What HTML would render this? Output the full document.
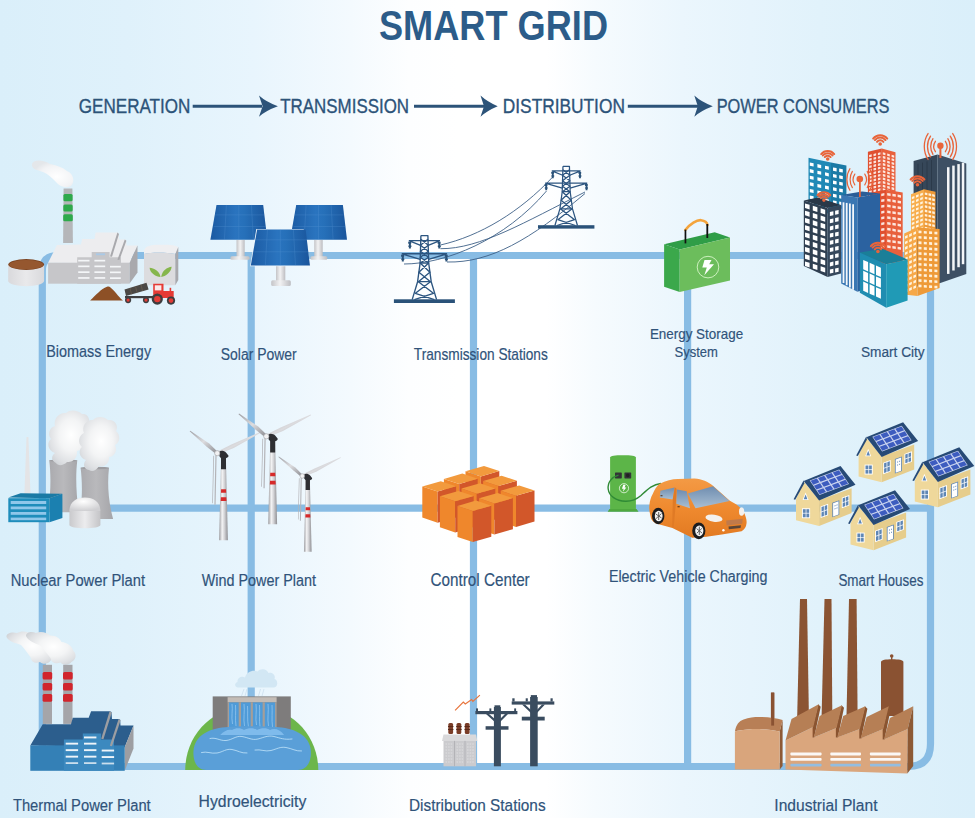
<!DOCTYPE html>
<html><head><meta charset="utf-8">
<style>
html,body{margin:0;padding:0;width:975px;height:818px;overflow:hidden;}
body{background:linear-gradient(90deg,#daeffa 0%,#dff1fb 13%,#e8f5fd 26%,#f4fafe 36%,#fdfeff 42%,#ffffff 47%,#ffffff 56%,#f6fbfe 61%,#ebf6fd 70%,#e1f2fb 84%,#daeffa 100%);}
svg{position:absolute;left:0;top:0;}
text{font-family:"Liberation Sans",sans-serif;}
</style></head>
<body>
<svg width="975" height="818" viewBox="0 0 975 818">
<!-- GRID LINES -->
<g id="grid" fill="none" stroke="#88bce4" stroke-width="7.2">
  <path d="M42.3,766.5 V271 Q42.3,255.5 58,255.5 H930.5"/>
  <path d="M42.3,508.2 H930.5"/>
  <path d="M42.3,766.5 H908 Q930.5,766.5 930.5,744 V255"/>
  <path d="M251.2,255.5 V766.5"/>
  <path d="M473.5,255.5 V766.5"/>
  <path d="M687.6,255.5 V766.5"/>
</g>

<!-- TITLE -->
<g fill="#2c5c89">
<text x="379" y="39.5" font-size="42.5" font-weight="bold" textLength="229" lengthAdjust="spacingAndGlyphs">SMART GRID</text>
</g>
<!-- HEADER FLOW -->
<g fill="#2c5379" stroke="#2c5379" stroke-width="0.35" font-size="20.3">
<text x="78.8" y="113.2" textLength="111.5" lengthAdjust="spacingAndGlyphs">GENERATION</text>
<text x="280.3" y="113.2" textLength="128.7" lengthAdjust="spacingAndGlyphs">TRANSMISSION</text>
<text x="502.8" y="113.2" textLength="122.1" lengthAdjust="spacingAndGlyphs">DISTRIBUTION</text>
<text x="716.7" y="113.2" textLength="172.8" lengthAdjust="spacingAndGlyphs">POWER CONSUMERS</text>
</g>
<g fill="#2c5379" stroke="#2c5379">
  <line x1="192.7" y1="106.3" x2="262" y2="106.3" stroke-width="3"/>
  <path d="M259,95.6 Q266,102 277.9,106.3 Q266,110.6 259,116.7 L262.6,106.3 Z" stroke="none"/>
  <line x1="414" y1="106.3" x2="484" y2="106.3" stroke-width="3"/>
  <path d="M480.5,95.6 Q487.5,102 497.7,106.3 Q487.5,110.6 480.5,116.7 L484,106.3 Z" stroke="none"/>
  <line x1="627.8" y1="106.3" x2="698" y2="106.3" stroke-width="3"/>
  <path d="M694.3,95.6 Q701.3,102 712.8,106.3 Q701.3,110.6 694.3,116.7 L697.8,106.3 Z" stroke="none"/>
</g>

<!-- ICONS -->
<g id="icons">
<defs>
  <radialGradient id="smoke" cx="0.6" cy="0.6" r="0.6">
    <stop offset="0" stop-color="#ffffff"/><stop offset="0.7" stop-color="#f2f3f5"/><stop offset="1" stop-color="#e4e7ea"/>
  </radialGradient>
  <linearGradient id="tankbody" x1="0" x2="1" y1="0" y2="0">
    <stop offset="0" stop-color="#d9d9dc"/><stop offset="0.5" stop-color="#e9e9eb"/><stop offset="1" stop-color="#d9d9dc"/>
  </linearGradient>
</defs>
<!-- BIOMASS -->
<g id="biomass">
  <!-- smoke -->
  <path d="M32,164 C34,159 44,160 50,164 C56,165 62,167 67,171 C74,174 75,182 71,186 C66,189 59,186 56,182 C52,178 48,174 43,172 C37,170 31,169 32,164 Z" fill="url(#smoke)"/>
  <!-- chimney -->
  <path d="M63.6,188.6 H72.4 L72.9,243 H63.1 Z" fill="#b5b6b9"/>
  <rect x="63.4" y="194" width="9.2" height="7.3" rx="1.5" fill="#2eaa4c"/>
  <rect x="63.3" y="204.4" width="9.4" height="7" rx="1.5" fill="#2eaa4c"/>
  <rect x="63.2" y="214.3" width="9.6" height="7" rx="1.5" fill="#2eaa4c"/>
  <!-- tank -->
  <path d="M8.2,264.5 V281 C8.2,284 17,286.2 26.2,286.2 C35.4,286.2 44.1,284 44.1,281 V264.5 Z" fill="url(#tankbody)"/>
  <ellipse cx="26.2" cy="264.5" rx="17.9" ry="5.4" fill="#7c4422"/>
  <ellipse cx="26.2" cy="264.7" rx="17" ry="4.6" fill="#95572f"/>
  <!-- factory -->
  <path d="M48.1,262.7 L57,245 L81,244.6 L82.2,239 L94.5,239 L95.6,232.5 L117.6,232.5 L118.8,233.2 L119.2,239.5 L125,239.5 L126.2,240.3 L126.5,245.5 L137.5,245.5 L129.4,263.2 Z" fill="#ededef"/>
  <path d="M129.4,263.2 L137.5,245.5 L137.5,272.4 L129.4,283.7 Z" fill="#a9a9ad"/>
  <rect x="48.1" y="262.7" width="81.3" height="21" fill="#c6c6c9"/>
  <path d="M77.2,283.7 V257.3 H91.7 V251.9 H109.6 V257.3 H121 V283.7 Z" fill="#c6c6c9"/>
  <rect x="96" y="253.4" width="9" height="1.8" fill="#a9c9e6"/>
  <path d="M117.4,232.6 L110,256.5 L112,256.8 L119,234 Z" fill="#a9a9ad"/>
  <path d="M124.8,239.5 L117.4,259.8 L119.4,260 L126.4,240.8 Z" fill="#a9a9ad"/>
  <g fill="#f4f6f8">
    <rect x="78.2" y="259.8" width="11.3" height="1.7"/><rect x="94.4" y="259.8" width="10.8" height="1.7"/>
    <rect x="78.2" y="265.5" width="11.3" height="1.7"/><rect x="94.4" y="265.5" width="10.8" height="1.7"/><rect x="110" y="265.8" width="10.8" height="1.7"/>
    <rect x="78.2" y="271.3" width="11.3" height="1.7"/><rect x="94.4" y="271.3" width="10.8" height="1.7"/><rect x="110" y="271.5" width="10.8" height="1.7"/>
    <rect x="78.2" y="277.1" width="11.3" height="1.7"/><rect x="94.4" y="277.1" width="10.8" height="1.7"/><rect x="110" y="277.3" width="10.8" height="1.7"/>
  </g>
  <!-- silo -->
  <path d="M144,252 C144,246 150,244.7 160,244.7 C170,244.7 178.3,245 178.3,248 L175.3,254 C165,252 152,252 144,254 Z" fill="#efeff1"/>
  <path d="M144,254 C152,252 165,252 175.3,254 V285.3 H144 Z" fill="#dcdcdf"/>
  <path d="M175.3,254 L178.3,247 V280 L175.3,285.3 Z" fill="#a9a9ad"/>
  <path d="M160.5,277 C156,277 150,273 149.6,267.8 C154,268 159.5,271 160.5,277 Z" fill="#86b64c"/>
  <path d="M161.2,277 C165.5,276.5 171,272.5 171.7,266.8 C167,267.5 162,270.5 161.2,277 Z" fill="#86b64c"/>
  <!-- dirt pile -->
  <path d="M90.1,300.6 C96,295 101,289 107,286.8 C108.5,286.4 109.5,286.6 110.5,287.4 C114,290 118,296 123,300.6 Z" fill="#8d5026"/>
  <!-- tractor -->
  <path d="M124.5,289.4 L146.5,282.7 L148.6,289.4 L126,296 Z" fill="#4b4845"/>
  <g stroke="#6b5e50" stroke-width="0.7"><line x1="130" y1="288" x2="131.5" y2="294.3"/><line x1="135.5" y1="286.3" x2="137" y2="292.7"/><line x1="141" y1="284.6" x2="142.5" y2="291"/></g>
  <rect x="125" y="296" width="28" height="2.2" fill="#3f3f41"/>
  <circle cx="128.1" cy="300.1" r="3.1" fill="#3f3f41"/><circle cx="128.1" cy="300.1" r="1.6" fill="#e23c36"/>
  <circle cx="146" cy="300.1" r="3.1" fill="#3f3f41"/><circle cx="146" cy="300.1" r="1.6" fill="#e23c36"/>
  <path d="M153.2,298 V283.7 H163.5 V290.9 H173.7 V298 Z" fill="#e53a35"/>
  <rect x="154.8" y="285.3" width="6.6" height="5.1" fill="#fbe9e9"/>
  <rect x="169.6" y="287.8" width="1.6" height="3.2" fill="#e53a35"/>
  <circle cx="157.3" cy="299.1" r="5.6" fill="#3d3d3f"/><circle cx="157.3" cy="299.1" r="3.2" fill="#e23c36"/>
  <circle cx="171" cy="300.6" r="4.1" fill="#3d3d3f"/><circle cx="171" cy="300.6" r="2.3" fill="#e23c36"/>
</g>
<!-- SOLAR -->
<defs>
  <linearGradient id="panel" x1="0" x2="1" y1="0" y2="0">
    <stop offset="0" stop-color="#1b5aa2"/><stop offset="0.45" stop-color="#2a74bf"/><stop offset="0.6" stop-color="#2670b9"/><stop offset="1" stop-color="#1a559c"/>
  </linearGradient>
  <linearGradient id="pole" x1="0" x2="1" y1="0" y2="0">
    <stop offset="0" stop-color="#c4c4c7"/><stop offset="0.45" stop-color="#f2f2f3"/><stop offset="1" stop-color="#bdbdc1"/>
  </linearGradient>
  <g id="solarpanel">
    <path d="M6.1,0 H52.8 L56.9,34.9 H0 Z" fill="url(#panel)"/>
    <g stroke="#6aa5e0" stroke-width="0.5" opacity="0.4">
      <line x1="4.8" y1="10" x2="54.1" y2="10"/><line x1="3.4" y1="21.6" x2="55.5" y2="21.6"/>
      <line x1="16" y1="0" x2="14" y2="34.9"/><line x1="28.4" y1="0" x2="28.4" y2="34.9"/><line x1="41" y1="0" x2="43" y2="34.9"/>
    </g>
  </g>
</defs>
<g id="solar">
  <rect x="236.5" y="240" width="8.2" height="17" fill="url(#pole)"/>
  <rect x="230.4" y="256.2" width="19.2" height="3.6" rx="1.5" fill="url(#pole)"/>
  <rect x="314.2" y="240" width="8.5" height="17" fill="url(#pole)"/>
  <rect x="310.4" y="256.2" width="16.9" height="3.6" rx="1.5" fill="url(#pole)"/>
  <use href="#solarpanel" x="210.4" y="204.9"/>
  <use href="#solarpanel" x="290.1" y="204.9"/>
  <rect x="276" y="265" width="9.3" height="16" fill="url(#pole)"/>
  <rect x="271.2" y="280.3" width="19.6" height="5.8" rx="1.5" fill="url(#pole)"/>
  <path d="M256.3,229 H303.7 L310.6,266.2 H250.1 Z" fill="#eef5fb"/>
  <g transform="translate(250.8,229.5) scale(1.039,1.032)"><use href="#solarpanel"/></g>
</g>
<!-- TRANSMISSION -->
<defs>
  <g id="tower">
    <rect x="-30.5" y="0" width="61" height="3.7" fill="#2a5279"/>
    <g fill="none" stroke="#2c5580" stroke-width="1.35" stroke-linejoin="round">
      <path d="M-3.5,-63.7 H3.5 L4.3,-36.2 L6.8,-17.6 L12.2,0.3 M-3.5,-63.7 L-4.3,-36.2 L-6.8,-17.6 L-12.2,0.3"/>
      <path d="M-3.6,-60 L4,-54 L-4,-48 L4.1,-42 L-4.2,-36.2 L5.5,-27 L-6,-17.6 L9,-6 L-10,0.3 M3.6,-60 L-4,-54 L4,-48 L-4.1,-42 L4.2,-36.2 L-5.5,-27 L6,-17.6 L-9,-6 L10,0.3"/>
      <path d="M-4.3,-36.2 H4.3 M-6.8,-17.6 H6.8"/>
      <path d="M-15.6,-58.7 H15.6 M-15.6,-58.7 L-3.8,-54 M15.6,-58.7 L3.8,-54"/>
      <path d="M-22.7,-45.5 H22.7 M-22.7,-45.5 L-4.2,-40 M22.7,-45.5 L4.2,-40"/>
    </g>
    <g fill="#2a5279">
      <path d="M-16.2,-57.5 h3 v2 h-0.3 v1.6 h0.5 v1.6 h-0.5 v1.6 h-2 v-1.6 h-0.5 v-1.6 h0.5 v-1.6 h-0.7 z"/>
      <path d="M13.2,-57.5 h3 v2 h-0.3 v1.6 h0.5 v1.6 h-0.5 v1.6 h-2 v-1.6 h-0.5 v-1.6 h0.5 v-1.6 h-0.7 z"/>
      <path d="M-23.3,-44.5 h3 v2 h-0.3 v1.6 h0.5 v1.6 h-0.5 v1.6 h-2 v-1.6 h-0.5 v-1.6 h0.5 v-1.6 h-0.7 z"/>
      <path d="M20.3,-44.5 h3 v2 h-0.3 v1.6 h0.5 v1.6 h-0.5 v1.6 h-2 v-1.6 h-0.5 v-1.6 h0.5 v-1.6 h-0.7 z"/>
    </g>
  </g>
</defs>
<g id="transmission">
  <g fill="none" stroke="#3d6087" stroke-width="0.9">
    <path d="M440.5,245 C480,236 520,212 552.7,177"/>
    <path d="M440.5,248.7 C480,249 525,222 585,192"/>
    <path d="M404,264 C445,264 505,240 546.5,191"/>
    <path d="M447,262 C490,263 530,240 585,193.5"/>
  </g>
  <use href="#tower" transform="translate(424.4,299.3)"/>
  <use href="#tower" transform="translate(566.2,225.2) scale(0.925)"/>
</g>
<!-- ENERGY STORAGE -->
<g id="battery">
  <path d="M685.3,230 C690,224 697,219.8 701,220.2 C704.5,220.6 707,222.5 707.5,225" fill="none" stroke="#f4a43c" stroke-width="2.6" stroke-linecap="round"/>
  <path d="M664.1,244.2 L714.7,232.3 L730,237.5 L679.7,249.4 Z" fill="#2f9d47"/>
  <rect x="684.6" y="229.6" width="1.7" height="13.8" fill="#111"/>
  <rect x="706.4" y="224" width="1.8" height="14" fill="#111"/>
  <path d="M664.1,244.2 L679.7,249.4 L679.7,292 L664.1,286.8 Z" fill="#3ba84b"/>
  <path d="M679.7,249.4 L730,237.5 L730,280.6 L679.7,292 Z" fill="#6cbd5c"/>
  <circle cx="708" cy="267.1" r="10.8" fill="none" stroke="#d7f5c8" stroke-width="0.9"/>
  <path d="M704.5,260 H711.5 L709.2,264.3 H714 L704.3,275.2 L706.8,267.6 H702.3 Z" fill="#ffffff"/>
</g>
<!-- NUCLEAR -->
<defs>
  <linearGradient id="ctower" x1="0" x2="1" y1="0" y2="0">
    <stop offset="0" stop-color="#a9a9ad"/><stop offset="0.5" stop-color="#b9b9bc"/><stop offset="1" stop-color="#a5a5a9"/>
  </linearGradient>
  <radialGradient id="cloud" cx="0.55" cy="0.45" r="0.65">
    <stop offset="0" stop-color="#ffffff"/><stop offset="0.45" stop-color="#f3f4f5"/><stop offset="0.8" stop-color="#dfe1e4"/><stop offset="1" stop-color="#cfd2d6"/>
  </radialGradient>
  <radialGradient id="domeg" cx="0.45" cy="0.3" r="0.7">
    <stop offset="0" stop-color="#ffffff"/><stop offset="1" stop-color="#cfcfd2"/>
  </radialGradient>
  <linearGradient id="domec" x1="0" x2="1" y1="0" y2="0">
    <stop offset="0" stop-color="#c9c9cc"/><stop offset="0.5" stop-color="#ececee"/><stop offset="1" stop-color="#c4c4c7"/>
  </linearGradient>
</defs>
<g id="nuclear">
  <path d="M49.2,460.3 H77.3 C75.5,475 76,495 78.9,512.3 H47.9 C50.8,495 51.2,475 49.2,460.3 Z" fill="url(#ctower)"/>
  <ellipse cx="63.25" cy="460.6" rx="14" ry="1.3" fill="#9d9da1"/>
  <path d="M80.6,467.7 H109 C107.3,483 108,500 113.1,518.9 H79.3 C82.5,500 82.5,483 80.6,467.7 Z" fill="url(#ctower)"/>
  <ellipse cx="94.8" cy="468" rx="14.2" ry="1.3" fill="#9d9da1"/>
  <path d="M56,463 C50,460 52,455 55,453 C47,450 47,442 51,439 C47,434 50,427 55,426 C53,418 60,412 66,413 C70,409 78,410 82,414 C88,413 91,420 88,425 C92,430 89,437 84,438 C86,444 82,450 77,451 C78,457 73,463 67,462 C63,466 58,466 56,463 Z" fill="url(#cloud)"/>
  <path d="M89,470 C83,469 83,463 86,460 C79,458 78,450 82,447 C77,443 79,435 84,433 C81,426 87,419 93,420 C96,416 104,416 108,420 C115,419 119,426 116,431 C121,435 120,443 115,445 C118,451 114,457 109,457 C110,463 104,468 99,466 C96,471 92,472 89,470 Z" fill="url(#cloud)"/>
  <path d="M26.5,437 H28.4 L30.5,494 H24.4 Z" fill="#e4e4e6"/>
  <path d="M8.3,497.4 L20.6,493.3 L62.4,493.8 L49.5,498.2 Z" fill="#1a7aa5"/>
  <path d="M49.5,498.2 L62.4,493.8 L62.4,518 L49.5,522.2 Z" fill="#1b80b0"/>
  <rect x="8.3" y="498.2" width="41.2" height="24" fill="#1f8dbb"/>
  <g fill="#8fc7ea"><rect x="10.7" y="501" width="35.5" height="3"/><rect x="10.7" y="506.5" width="35.5" height="2.8"/><rect x="10.7" y="512" width="35.5" height="2.8"/><rect x="10.7" y="517.6" width="35.5" height="2.6"/></g>
  <path d="M69.4,511 V525 C69.4,527 77,528.3 84.9,528.3 C92.8,528.3 100.4,527 100.4,525 V511 Z" fill="url(#domec)"/>
  <path d="M69.4,511 C69.4,502 76,497.4 84.9,497.4 C93.8,497.4 100.4,502 100.4,511 Z" fill="url(#domeg)"/>
</g>
</g>

<g id="city">
<path d="M913.6,161 L937.5,154.5 L937.5,284 L913.6,287 Z" fill="#364759"/>
<path d="M937.5,154.5 L966.3,163.5 L966.3,274 L937.5,284 Z" fill="#3e5064"/>
<g stroke="#2b3a4a" stroke-width="1"><line x1="918" y1="163.8" x2="918" y2="284"/><line x1="922.5" y1="162.6" x2="922.5" y2="284"/><line x1="927" y1="161.4" x2="927" y2="284"/><line x1="931.5" y1="160.1" x2="931.5" y2="284"/></g>
<g fill="#f4f6f8"><path d="M947,167.2 h2.5 v106.7 h-2.5 Z"/><path d="M952.2,165.6 h2.5 v104.9 h-2.5 Z"/><path d="M957.3,164.1 h2.5 v103.1 h-2.5 Z"/><path d="M961.8,162.7 h2.5 v101.5 h-2.5 Z"/></g>
<rect x="939.4" y="146" width="2" height="12" fill="#e8643a"/><circle cx="940.4" cy="145.8" r="3.2" fill="#e8643a"/>
<g fill="none" stroke="#e8643a" stroke-width="1.3" stroke-linecap="round"><path d="M935.42,141.28 A6.50,8.12 0 0 0 935.42,151.72"/><path d="M945.38,141.28 A6.50,8.12 0 0 1 945.38,151.72"/><path d="M932.97,138.71 A9.70,12.12 0 0 0 932.97,154.29"/><path d="M947.83,138.71 A9.70,12.12 0 0 1 947.83,154.29"/><path d="M930.52,136.14 A12.90,16.12 0 0 0 930.52,156.86"/><path d="M950.28,136.14 A12.90,16.12 0 0 1 950.28,156.86"/><path d="M928.07,133.56 A16.10,20.12 0 0 0 928.07,159.44"/><path d="M952.73,133.56 A16.10,20.12 0 0 1 952.73,159.44"/></g>
<path d="M808.5,157.7 L831,162.5 L831,214 L808.5,210 Z" fill="#2089b6"/>
<path d="M831,162.5 L846.4,165.5 L846.4,210 L831,214 Z" fill="#1b7aa6"/>
<g transform="matrix(1,0.2133,0,1,808.5,157.7)" fill="#fff"><rect x="1.30" y="4.50" width="3.8" height="3.3"/><rect x="8.90" y="4.50" width="3.8" height="3.3"/><rect x="16.50" y="4.50" width="3.8" height="3.3"/><rect x="1.30" y="11.10" width="3.8" height="3.3"/><rect x="8.90" y="11.10" width="3.8" height="3.3"/><rect x="16.50" y="11.10" width="3.8" height="3.3"/><rect x="1.30" y="17.70" width="3.8" height="3.3"/><rect x="8.90" y="17.70" width="3.8" height="3.3"/><rect x="16.50" y="17.70" width="3.8" height="3.3"/><rect x="1.30" y="24.30" width="3.8" height="3.3"/><rect x="8.90" y="24.30" width="3.8" height="3.3"/><rect x="16.50" y="24.30" width="3.8" height="3.3"/><rect x="1.30" y="30.90" width="3.8" height="3.3"/><rect x="8.90" y="30.90" width="3.8" height="3.3"/><rect x="16.50" y="30.90" width="3.8" height="3.3"/><rect x="1.30" y="37.50" width="3.8" height="3.3"/><rect x="8.90" y="37.50" width="3.8" height="3.3"/><rect x="16.50" y="37.50" width="3.8" height="3.3"/><rect x="1.30" y="44.10" width="3.8" height="3.3"/><rect x="8.90" y="44.10" width="3.8" height="3.3"/><rect x="16.50" y="44.10" width="3.8" height="3.3"/></g>
<g transform="matrix(1,0.1948,0,1,831,162.5)" fill="#fff"><rect x="2.00" y="4.50" width="3.6" height="3.3"/><rect x="8.20" y="4.50" width="3.6" height="3.3"/><rect x="2.00" y="11.10" width="3.6" height="3.3"/><rect x="8.20" y="11.10" width="3.6" height="3.3"/><rect x="2.00" y="17.70" width="3.6" height="3.3"/><rect x="8.20" y="17.70" width="3.6" height="3.3"/><rect x="2.00" y="24.30" width="3.6" height="3.3"/><rect x="8.20" y="24.30" width="3.6" height="3.3"/><rect x="2.00" y="30.90" width="3.6" height="3.3"/><rect x="8.20" y="30.90" width="3.6" height="3.3"/><rect x="2.00" y="37.50" width="3.6" height="3.3"/><rect x="8.20" y="37.50" width="3.6" height="3.3"/><rect x="2.00" y="44.10" width="3.6" height="3.3"/><rect x="8.20" y="44.10" width="3.6" height="3.3"/></g>
<g fill="none" stroke="#e8643a" stroke-width="2.0" stroke-linecap="round"><path d="M824.77,157.04 A3.83,3.83 0 0 1 830.63,157.04"/><path d="M822.82,155.40 A6.38,6.38 0 0 1 832.58,155.40"/><path d="M821.19,154.04 A8.50,8.50 0 0 1 834.21,154.04"/></g><circle cx="827.7" cy="159.0" r="1.80" fill="#e8643a"/>
<path d="M867.9,151.7 L881.8,148.5 L881.8,262 L867.9,260 Z" fill="#e05030"/>
<path d="M881.8,148.5 L895.5,152.3 L895.5,260 L881.8,262 Z" fill="#e8603c"/>
<g transform="matrix(1,-0.2302,0,1,867.9,151.7)" fill="#fbe3dc"><rect x="1.20" y="3.50" width="2.6" height="2.3"/><rect x="5.60" y="3.50" width="2.6" height="2.3"/><rect x="10.00" y="3.50" width="2.6" height="2.3"/><rect x="1.20" y="7.10" width="2.6" height="2.3"/><rect x="5.60" y="7.10" width="2.6" height="2.3"/><rect x="10.00" y="7.10" width="2.6" height="2.3"/><rect x="1.20" y="10.70" width="2.6" height="2.3"/><rect x="5.60" y="10.70" width="2.6" height="2.3"/><rect x="10.00" y="10.70" width="2.6" height="2.3"/><rect x="1.20" y="14.30" width="2.6" height="2.3"/><rect x="5.60" y="14.30" width="2.6" height="2.3"/><rect x="10.00" y="14.30" width="2.6" height="2.3"/><rect x="1.20" y="17.90" width="2.6" height="2.3"/><rect x="5.60" y="17.90" width="2.6" height="2.3"/><rect x="10.00" y="17.90" width="2.6" height="2.3"/><rect x="1.20" y="21.50" width="2.6" height="2.3"/><rect x="5.60" y="21.50" width="2.6" height="2.3"/><rect x="10.00" y="21.50" width="2.6" height="2.3"/><rect x="1.20" y="25.10" width="2.6" height="2.3"/><rect x="5.60" y="25.10" width="2.6" height="2.3"/><rect x="10.00" y="25.10" width="2.6" height="2.3"/><rect x="1.20" y="28.70" width="2.6" height="2.3"/><rect x="5.60" y="28.70" width="2.6" height="2.3"/><rect x="10.00" y="28.70" width="2.6" height="2.3"/><rect x="1.20" y="32.30" width="2.6" height="2.3"/><rect x="5.60" y="32.30" width="2.6" height="2.3"/><rect x="10.00" y="32.30" width="2.6" height="2.3"/><rect x="1.20" y="35.90" width="2.6" height="2.3"/><rect x="5.60" y="35.90" width="2.6" height="2.3"/><rect x="10.00" y="35.90" width="2.6" height="2.3"/><rect x="1.20" y="39.50" width="2.6" height="2.3"/><rect x="5.60" y="39.50" width="2.6" height="2.3"/><rect x="10.00" y="39.50" width="2.6" height="2.3"/><rect x="1.20" y="43.10" width="2.6" height="2.3"/><rect x="5.60" y="43.10" width="2.6" height="2.3"/><rect x="10.00" y="43.10" width="2.6" height="2.3"/></g>
<g transform="matrix(1,0.2774,0,1,881.8,148.5)" fill="#fde6de"><rect x="1.00" y="3.50" width="2.6" height="2.3"/><rect x="5.40" y="3.50" width="2.6" height="2.3"/><rect x="9.80" y="3.50" width="2.6" height="2.3"/><rect x="1.00" y="7.10" width="2.6" height="2.3"/><rect x="5.40" y="7.10" width="2.6" height="2.3"/><rect x="9.80" y="7.10" width="2.6" height="2.3"/><rect x="1.00" y="10.70" width="2.6" height="2.3"/><rect x="5.40" y="10.70" width="2.6" height="2.3"/><rect x="9.80" y="10.70" width="2.6" height="2.3"/><rect x="1.00" y="14.30" width="2.6" height="2.3"/><rect x="5.40" y="14.30" width="2.6" height="2.3"/><rect x="9.80" y="14.30" width="2.6" height="2.3"/><rect x="1.00" y="17.90" width="2.6" height="2.3"/><rect x="5.40" y="17.90" width="2.6" height="2.3"/><rect x="9.80" y="17.90" width="2.6" height="2.3"/><rect x="1.00" y="21.50" width="2.6" height="2.3"/><rect x="5.40" y="21.50" width="2.6" height="2.3"/><rect x="9.80" y="21.50" width="2.6" height="2.3"/><rect x="1.00" y="25.10" width="2.6" height="2.3"/><rect x="5.40" y="25.10" width="2.6" height="2.3"/><rect x="9.80" y="25.10" width="2.6" height="2.3"/><rect x="1.00" y="28.70" width="2.6" height="2.3"/><rect x="5.40" y="28.70" width="2.6" height="2.3"/><rect x="9.80" y="28.70" width="2.6" height="2.3"/><rect x="1.00" y="32.30" width="2.6" height="2.3"/><rect x="5.40" y="32.30" width="2.6" height="2.3"/><rect x="9.80" y="32.30" width="2.6" height="2.3"/><rect x="1.00" y="35.90" width="2.6" height="2.3"/><rect x="5.40" y="35.90" width="2.6" height="2.3"/><rect x="9.80" y="35.90" width="2.6" height="2.3"/><rect x="1.00" y="39.50" width="2.6" height="2.3"/><rect x="5.40" y="39.50" width="2.6" height="2.3"/><rect x="9.80" y="39.50" width="2.6" height="2.3"/><rect x="1.00" y="43.10" width="2.6" height="2.3"/><rect x="5.40" y="43.10" width="2.6" height="2.3"/><rect x="9.80" y="43.10" width="2.6" height="2.3"/></g>
<path d="M870,193 L886,189.8 L886,264 L870,262 Z" fill="#e05030"/>
<path d="M886,189.8 L902.7,192.4 L902.7,262 L886,264 Z" fill="#e8603c"/>
<g transform="matrix(1,-0.2000,0,1,870,193)" fill="#fbe3dc"><rect x="1.20" y="3.00" width="3.2" height="2.5"/><rect x="6.20" y="3.00" width="3.2" height="2.5"/><rect x="11.20" y="3.00" width="3.2" height="2.5"/><rect x="1.20" y="8.80" width="3.2" height="2.5"/><rect x="6.20" y="8.80" width="3.2" height="2.5"/><rect x="11.20" y="8.80" width="3.2" height="2.5"/><rect x="1.20" y="14.60" width="3.2" height="2.5"/><rect x="6.20" y="14.60" width="3.2" height="2.5"/><rect x="11.20" y="14.60" width="3.2" height="2.5"/><rect x="1.20" y="20.40" width="3.2" height="2.5"/><rect x="6.20" y="20.40" width="3.2" height="2.5"/><rect x="11.20" y="20.40" width="3.2" height="2.5"/><rect x="1.20" y="26.20" width="3.2" height="2.5"/><rect x="6.20" y="26.20" width="3.2" height="2.5"/><rect x="11.20" y="26.20" width="3.2" height="2.5"/><rect x="1.20" y="32.00" width="3.2" height="2.5"/><rect x="6.20" y="32.00" width="3.2" height="2.5"/><rect x="11.20" y="32.00" width="3.2" height="2.5"/><rect x="1.20" y="37.80" width="3.2" height="2.5"/><rect x="6.20" y="37.80" width="3.2" height="2.5"/><rect x="11.20" y="37.80" width="3.2" height="2.5"/><rect x="1.20" y="43.60" width="3.2" height="2.5"/><rect x="6.20" y="43.60" width="3.2" height="2.5"/><rect x="11.20" y="43.60" width="3.2" height="2.5"/><rect x="1.20" y="49.40" width="3.2" height="2.5"/><rect x="6.20" y="49.40" width="3.2" height="2.5"/><rect x="11.20" y="49.40" width="3.2" height="2.5"/><rect x="1.20" y="55.20" width="3.2" height="2.5"/><rect x="6.20" y="55.20" width="3.2" height="2.5"/><rect x="11.20" y="55.20" width="3.2" height="2.5"/></g>
<g transform="matrix(1,0.1557,0,1,886,189.8)" fill="#fde6de"><rect x="1.20" y="3.00" width="3.4" height="2.5"/><rect x="6.40" y="3.00" width="3.4" height="2.5"/><rect x="11.60" y="3.00" width="3.4" height="2.5"/><rect x="1.20" y="8.80" width="3.4" height="2.5"/><rect x="6.40" y="8.80" width="3.4" height="2.5"/><rect x="11.60" y="8.80" width="3.4" height="2.5"/><rect x="1.20" y="14.60" width="3.4" height="2.5"/><rect x="6.40" y="14.60" width="3.4" height="2.5"/><rect x="11.60" y="14.60" width="3.4" height="2.5"/><rect x="1.20" y="20.40" width="3.4" height="2.5"/><rect x="6.40" y="20.40" width="3.4" height="2.5"/><rect x="11.60" y="20.40" width="3.4" height="2.5"/><rect x="1.20" y="26.20" width="3.4" height="2.5"/><rect x="6.40" y="26.20" width="3.4" height="2.5"/><rect x="11.60" y="26.20" width="3.4" height="2.5"/><rect x="1.20" y="32.00" width="3.4" height="2.5"/><rect x="6.40" y="32.00" width="3.4" height="2.5"/><rect x="11.60" y="32.00" width="3.4" height="2.5"/><rect x="1.20" y="37.80" width="3.4" height="2.5"/><rect x="6.40" y="37.80" width="3.4" height="2.5"/><rect x="11.60" y="37.80" width="3.4" height="2.5"/><rect x="1.20" y="43.60" width="3.4" height="2.5"/><rect x="6.40" y="43.60" width="3.4" height="2.5"/><rect x="11.60" y="43.60" width="3.4" height="2.5"/><rect x="1.20" y="49.40" width="3.4" height="2.5"/><rect x="6.40" y="49.40" width="3.4" height="2.5"/><rect x="11.60" y="49.40" width="3.4" height="2.5"/><rect x="1.20" y="55.20" width="3.4" height="2.5"/><rect x="6.40" y="55.20" width="3.4" height="2.5"/><rect x="11.60" y="55.20" width="3.4" height="2.5"/></g>
<g fill="none" stroke="#e8643a" stroke-width="2.0" stroke-linecap="round"><path d="M877.03,141.84 A4.14,4.14 0 0 1 883.37,141.84"/><path d="M874.91,140.06 A6.90,6.90 0 0 1 885.49,140.06"/><path d="M873.15,138.59 A9.20,9.20 0 0 1 887.25,138.59"/></g><circle cx="880.2" cy="144.0" r="1.80" fill="#e8643a"/>
<path d="M911,194.3 L924,189.2 L924,238 L911,240 Z" fill="#f7ae4e"/>
<path d="M924,189.2 L935.5,191.8 L935.5,240 L924,238 Z" fill="#ee9a38"/>
<g transform="matrix(1,-0.3923,0,1,911,194.3)" fill="#fff4e0"><rect x="0.80" y="3.00" width="2.6" height="2.3"/><rect x="5.00" y="3.00" width="2.6" height="2.3"/><rect x="9.20" y="3.00" width="2.6" height="2.3"/><rect x="0.80" y="7.30" width="2.6" height="2.3"/><rect x="5.00" y="7.30" width="2.6" height="2.3"/><rect x="9.20" y="7.30" width="2.6" height="2.3"/><rect x="0.80" y="11.60" width="2.6" height="2.3"/><rect x="5.00" y="11.60" width="2.6" height="2.3"/><rect x="9.20" y="11.60" width="2.6" height="2.3"/><rect x="0.80" y="15.90" width="2.6" height="2.3"/><rect x="5.00" y="15.90" width="2.6" height="2.3"/><rect x="9.20" y="15.90" width="2.6" height="2.3"/><rect x="0.80" y="20.20" width="2.6" height="2.3"/><rect x="5.00" y="20.20" width="2.6" height="2.3"/><rect x="9.20" y="20.20" width="2.6" height="2.3"/><rect x="0.80" y="24.50" width="2.6" height="2.3"/><rect x="5.00" y="24.50" width="2.6" height="2.3"/><rect x="9.20" y="24.50" width="2.6" height="2.3"/><rect x="0.80" y="28.80" width="2.6" height="2.3"/><rect x="5.00" y="28.80" width="2.6" height="2.3"/><rect x="9.20" y="28.80" width="2.6" height="2.3"/><rect x="0.80" y="33.10" width="2.6" height="2.3"/><rect x="5.00" y="33.10" width="2.6" height="2.3"/><rect x="9.20" y="33.10" width="2.6" height="2.3"/><rect x="0.80" y="37.40" width="2.6" height="2.3"/><rect x="5.00" y="37.40" width="2.6" height="2.3"/><rect x="9.20" y="37.40" width="2.6" height="2.3"/></g>
<g transform="matrix(1,0.2261,0,1,924,189.2)" fill="#fff1da"><rect x="0.80" y="3.00" width="2.6" height="2.3"/><rect x="4.50" y="3.00" width="2.6" height="2.3"/><rect x="8.20" y="3.00" width="2.6" height="2.3"/><rect x="0.80" y="7.30" width="2.6" height="2.3"/><rect x="4.50" y="7.30" width="2.6" height="2.3"/><rect x="8.20" y="7.30" width="2.6" height="2.3"/><rect x="0.80" y="11.60" width="2.6" height="2.3"/><rect x="4.50" y="11.60" width="2.6" height="2.3"/><rect x="8.20" y="11.60" width="2.6" height="2.3"/><rect x="0.80" y="15.90" width="2.6" height="2.3"/><rect x="4.50" y="15.90" width="2.6" height="2.3"/><rect x="8.20" y="15.90" width="2.6" height="2.3"/><rect x="0.80" y="20.20" width="2.6" height="2.3"/><rect x="4.50" y="20.20" width="2.6" height="2.3"/><rect x="8.20" y="20.20" width="2.6" height="2.3"/><rect x="0.80" y="24.50" width="2.6" height="2.3"/><rect x="4.50" y="24.50" width="2.6" height="2.3"/><rect x="8.20" y="24.50" width="2.6" height="2.3"/><rect x="0.80" y="28.80" width="2.6" height="2.3"/><rect x="4.50" y="28.80" width="2.6" height="2.3"/><rect x="8.20" y="28.80" width="2.6" height="2.3"/><rect x="0.80" y="33.10" width="2.6" height="2.3"/><rect x="4.50" y="33.10" width="2.6" height="2.3"/><rect x="8.20" y="33.10" width="2.6" height="2.3"/><rect x="0.80" y="37.40" width="2.6" height="2.3"/><rect x="4.50" y="37.40" width="2.6" height="2.3"/><rect x="8.20" y="37.40" width="2.6" height="2.3"/></g>
<path d="M904.2,233.6 L917.5,227.5 L917.5,296 L904.2,294.4 Z" fill="#f6a848"/>
<path d="M917.5,227.5 L939.6,229 L939.6,288 L917.5,296 Z" fill="#ee9a38"/>
<g transform="matrix(1,-0.4586,0,1,904.2,233.6)" fill="#fff4e0"><rect x="0.80" y="3.00" width="2.6" height="2.6"/><rect x="5.00" y="3.00" width="2.6" height="2.6"/><rect x="9.20" y="3.00" width="2.6" height="2.6"/><rect x="0.80" y="8.40" width="2.6" height="2.6"/><rect x="5.00" y="8.40" width="2.6" height="2.6"/><rect x="9.20" y="8.40" width="2.6" height="2.6"/><rect x="0.80" y="13.80" width="2.6" height="2.6"/><rect x="5.00" y="13.80" width="2.6" height="2.6"/><rect x="9.20" y="13.80" width="2.6" height="2.6"/><rect x="0.80" y="19.20" width="2.6" height="2.6"/><rect x="5.00" y="19.20" width="2.6" height="2.6"/><rect x="9.20" y="19.20" width="2.6" height="2.6"/><rect x="0.80" y="24.60" width="2.6" height="2.6"/><rect x="5.00" y="24.60" width="2.6" height="2.6"/><rect x="9.20" y="24.60" width="2.6" height="2.6"/><rect x="0.80" y="30.00" width="2.6" height="2.6"/><rect x="5.00" y="30.00" width="2.6" height="2.6"/><rect x="9.20" y="30.00" width="2.6" height="2.6"/><rect x="0.80" y="35.40" width="2.6" height="2.6"/><rect x="5.00" y="35.40" width="2.6" height="2.6"/><rect x="9.20" y="35.40" width="2.6" height="2.6"/><rect x="0.80" y="40.80" width="2.6" height="2.6"/><rect x="5.00" y="40.80" width="2.6" height="2.6"/><rect x="9.20" y="40.80" width="2.6" height="2.6"/><rect x="0.80" y="46.20" width="2.6" height="2.6"/><rect x="5.00" y="46.20" width="2.6" height="2.6"/><rect x="9.20" y="46.20" width="2.6" height="2.6"/><rect x="0.80" y="51.60" width="2.6" height="2.6"/><rect x="5.00" y="51.60" width="2.6" height="2.6"/><rect x="9.20" y="51.60" width="2.6" height="2.6"/><rect x="0.80" y="57.00" width="2.6" height="2.6"/><rect x="5.00" y="57.00" width="2.6" height="2.6"/><rect x="9.20" y="57.00" width="2.6" height="2.6"/></g>
<g transform="matrix(1,0.0679,0,1,917.5,227.5)" fill="#fff1da"><rect x="1.00" y="3.00" width="3.0" height="2.6"/><rect x="6.30" y="3.00" width="3.0" height="2.6"/><rect x="11.60" y="3.00" width="3.0" height="2.6"/><rect x="16.90" y="3.00" width="3.0" height="2.6"/><rect x="1.00" y="8.40" width="3.0" height="2.6"/><rect x="6.30" y="8.40" width="3.0" height="2.6"/><rect x="11.60" y="8.40" width="3.0" height="2.6"/><rect x="16.90" y="8.40" width="3.0" height="2.6"/><rect x="1.00" y="13.80" width="3.0" height="2.6"/><rect x="6.30" y="13.80" width="3.0" height="2.6"/><rect x="11.60" y="13.80" width="3.0" height="2.6"/><rect x="16.90" y="13.80" width="3.0" height="2.6"/><rect x="1.00" y="19.20" width="3.0" height="2.6"/><rect x="6.30" y="19.20" width="3.0" height="2.6"/><rect x="11.60" y="19.20" width="3.0" height="2.6"/><rect x="16.90" y="19.20" width="3.0" height="2.6"/><rect x="1.00" y="24.60" width="3.0" height="2.6"/><rect x="6.30" y="24.60" width="3.0" height="2.6"/><rect x="11.60" y="24.60" width="3.0" height="2.6"/><rect x="16.90" y="24.60" width="3.0" height="2.6"/><rect x="1.00" y="30.00" width="3.0" height="2.6"/><rect x="6.30" y="30.00" width="3.0" height="2.6"/><rect x="11.60" y="30.00" width="3.0" height="2.6"/><rect x="16.90" y="30.00" width="3.0" height="2.6"/><rect x="1.00" y="35.40" width="3.0" height="2.6"/><rect x="6.30" y="35.40" width="3.0" height="2.6"/><rect x="11.60" y="35.40" width="3.0" height="2.6"/><rect x="16.90" y="35.40" width="3.0" height="2.6"/><rect x="1.00" y="40.80" width="3.0" height="2.6"/><rect x="6.30" y="40.80" width="3.0" height="2.6"/><rect x="11.60" y="40.80" width="3.0" height="2.6"/><rect x="16.90" y="40.80" width="3.0" height="2.6"/><rect x="1.00" y="46.20" width="3.0" height="2.6"/><rect x="6.30" y="46.20" width="3.0" height="2.6"/><rect x="11.60" y="46.20" width="3.0" height="2.6"/><rect x="16.90" y="46.20" width="3.0" height="2.6"/><rect x="1.00" y="51.60" width="3.0" height="2.6"/><rect x="6.30" y="51.60" width="3.0" height="2.6"/><rect x="11.60" y="51.60" width="3.0" height="2.6"/><rect x="16.90" y="51.60" width="3.0" height="2.6"/><rect x="1.00" y="57.00" width="3.0" height="2.6"/><rect x="6.30" y="57.00" width="3.0" height="2.6"/><rect x="11.60" y="57.00" width="3.0" height="2.6"/><rect x="16.90" y="57.00" width="3.0" height="2.6"/></g>
<g fill="none" stroke="#e8643a" stroke-width="2.0" stroke-linecap="round"><path d="M914.40,182.70 A4.05,4.05 0 0 1 920.60,182.70"/><path d="M912.33,180.96 A6.75,6.75 0 0 1 922.67,180.96"/><path d="M910.61,179.51 A9.00,9.00 0 0 1 924.39,179.51"/></g><circle cx="917.5" cy="184.8" r="1.80" fill="#e8643a"/>
<path d="M803.8,200.4 L818,197.5 L841,205 L827.6,208 Z" fill="#2a3848"/>
<path d="M803.8,200.4 L827.6,208 L827.6,277 L803.8,266 Z" fill="#2f3f51"/>
<path d="M827.6,208 L841,205 L841,273.6 L827.6,277 Z" fill="#36485c"/>
<g transform="matrix(1,0.3193,0,1,803.8,200.4)" fill="#fff"><rect x="1.20" y="2.60" width="4.6" height="4.6"/><rect x="9.00" y="2.60" width="4.6" height="4.6"/><rect x="16.80" y="2.60" width="4.6" height="4.6"/><rect x="1.20" y="9.85" width="4.6" height="4.6"/><rect x="9.00" y="9.85" width="4.6" height="4.6"/><rect x="16.80" y="9.85" width="4.6" height="4.6"/><rect x="1.20" y="17.10" width="4.6" height="4.6"/><rect x="9.00" y="17.10" width="4.6" height="4.6"/><rect x="16.80" y="17.10" width="4.6" height="4.6"/><rect x="1.20" y="24.35" width="4.6" height="4.6"/><rect x="9.00" y="24.35" width="4.6" height="4.6"/><rect x="16.80" y="24.35" width="4.6" height="4.6"/><rect x="1.20" y="31.60" width="4.6" height="4.6"/><rect x="9.00" y="31.60" width="4.6" height="4.6"/><rect x="16.80" y="31.60" width="4.6" height="4.6"/><rect x="1.20" y="38.85" width="4.6" height="4.6"/><rect x="9.00" y="38.85" width="4.6" height="4.6"/><rect x="16.80" y="38.85" width="4.6" height="4.6"/><rect x="1.20" y="46.10" width="4.6" height="4.6"/><rect x="9.00" y="46.10" width="4.6" height="4.6"/><rect x="16.80" y="46.10" width="4.6" height="4.6"/><rect x="1.20" y="53.35" width="4.6" height="4.6"/><rect x="9.00" y="53.35" width="4.6" height="4.6"/><rect x="16.80" y="53.35" width="4.6" height="4.6"/><rect x="1.20" y="60.60" width="4.6" height="4.6"/><rect x="9.00" y="60.60" width="4.6" height="4.6"/><rect x="16.80" y="60.60" width="4.6" height="4.6"/></g>
<g transform="matrix(1,-0.2239,0,1,827.6,208)" fill="#fff"><rect x="2.30" y="4.50" width="3.5" height="4.0"/><rect x="7.50" y="4.50" width="3.5" height="4.0"/><rect x="2.30" y="11.70" width="3.5" height="4.0"/><rect x="7.50" y="11.70" width="3.5" height="4.0"/><rect x="2.30" y="18.90" width="3.5" height="4.0"/><rect x="7.50" y="18.90" width="3.5" height="4.0"/><rect x="2.30" y="26.10" width="3.5" height="4.0"/><rect x="7.50" y="26.10" width="3.5" height="4.0"/><rect x="2.30" y="33.30" width="3.5" height="4.0"/><rect x="7.50" y="33.30" width="3.5" height="4.0"/><rect x="2.30" y="40.50" width="3.5" height="4.0"/><rect x="7.50" y="40.50" width="3.5" height="4.0"/><rect x="2.30" y="47.70" width="3.5" height="4.0"/><rect x="7.50" y="47.70" width="3.5" height="4.0"/><rect x="2.30" y="54.90" width="3.5" height="4.0"/><rect x="7.50" y="54.90" width="3.5" height="4.0"/><rect x="2.30" y="62.10" width="3.5" height="4.0"/><rect x="7.50" y="62.10" width="3.5" height="4.0"/></g>
<g fill="none" stroke="#e8643a" stroke-width="2.0" stroke-linecap="round"><path d="M821.04,198.20 A3.74,3.74 0 0 1 826.76,198.20"/><path d="M819.13,196.60 A6.23,6.23 0 0 1 828.67,196.60"/><path d="M817.54,195.26 A8.30,8.30 0 0 1 830.26,195.26"/></g><circle cx="823.9" cy="200.1" r="1.80" fill="#e8643a"/>
<path d="M841.2,195 L862,191.5 L880,193.5 L857.4,197.5 Z" fill="#2a5d97"/>
<path d="M841.2,195 L857.4,197.5 L857.4,291.7 L841.2,283.5 Z" fill="#3a77b3"/>
<path d="M857.4,197.5 L880,193.5 L880,285 L857.4,291.7 Z" fill="#2b62a0"/>
<g fill="#f4f7fa"><path d="M842.6,202.3 h1.8 v80.7 h-1.8 Z"/><path d="M845.8,202.9 h1.8 v82.3 h-1.8 Z"/><path d="M849,203.6 h1.8 v83.9 h-1.8 Z"/><path d="M852.2,204.2 h1.8 v85.5 h-1.8 Z"/></g>
<rect x="859" y="179" width="1.8" height="18" fill="#e8643a"/><circle cx="859.8" cy="179" r="3.3" fill="#e8643a"/>
<g fill="none" stroke="#e8643a" stroke-width="1.2" stroke-linecap="round"><path d="M854.82,174.07 A6.50,8.45 0 0 0 854.82,184.93"/><path d="M864.78,174.07 A6.50,8.45 0 0 1 864.78,184.93"/><path d="M852.37,171.39 A9.70,12.61 0 0 0 852.37,187.61"/><path d="M867.23,171.39 A9.70,12.61 0 0 1 867.23,187.61"/><path d="M849.92,168.72 A12.90,16.77 0 0 0 849.92,190.28"/><path d="M869.68,168.72 A12.90,16.77 0 0 1 869.68,190.28"/></g>
<path d="M859.8,252.6 L882.3,248.7 L907.7,259.4 L886.2,264.3 Z" fill="#1a7f98"/>
<path d="M859.8,252.6 L886.2,264.3 L886.2,307.8 L859.8,292.7 Z" fill="#1f8db1"/>
<path d="M886.2,264.3 L907.6,259.4 L907.6,300.5 L886.2,307.8 Z" fill="#209ab6"/>
<g transform="matrix(1,0.4432,0,1,859.8,252.6)" fill="#fff"><rect x="3.40" y="5.80" width="4.9" height="9.3"/><rect x="9.80" y="5.80" width="4.9" height="9.3"/><rect x="16.20" y="5.80" width="4.9" height="9.3"/><rect x="3.40" y="16.60" width="4.9" height="9.3"/><rect x="9.80" y="16.60" width="4.9" height="9.3"/><rect x="16.20" y="16.60" width="4.9" height="9.3"/><rect x="3.40" y="27.40" width="4.9" height="9.3"/><rect x="9.80" y="27.40" width="4.9" height="9.3"/><rect x="16.20" y="27.40" width="4.9" height="9.3"/></g>
<g fill="none" stroke="#e8643a" stroke-width="2.0" stroke-linecap="round"><path d="M874.73,249.34 A4.14,4.14 0 0 1 881.07,249.34"/><path d="M872.61,247.56 A6.90,6.90 0 0 1 883.19,247.56"/><path d="M870.85,246.09 A9.20,9.20 0 0 1 884.95,246.09"/></g><circle cx="877.9" cy="251.5" r="1.80" fill="#e8643a"/>
</g><!--/city-->
<!--wind--><defs>
<linearGradient id="towerg" x1="0" x2="1" y1="0" y2="0"><stop offset="0" stop-color="#9a9a9e"/><stop offset="0.35" stop-color="#f4f4f5"/><stop offset="0.6" stop-color="#d4d4d7"/><stop offset="1" stop-color="#8e8e92"/></linearGradient>
<linearGradient id="bladeg" x1="0" x2="1" y1="0" y2="1"><stop offset="0" stop-color="#9d9da2"/><stop offset="0.5" stop-color="#dcdcdf"/><stop offset="1" stop-color="#8e8e93"/></linearGradient>
<g id="turbine">
<path d="M3.9,4 H8.7 L10.7,87 H1.9 Z" fill="url(#towerg)"/>
<path d="M3.9,36 H8.8 L9,39.5 H3.8 Z M3.7,44 H9.1 L9.3,47.8 H3.5 Z" fill="#d62a2a"/>
<path d="M-0.62,-2.42 L-8.02,-9.65 L-26.96,-22.55 L-27.53,-21.84 L-10.53,-6.53 L-2.50,-0.08 Z" fill="url(#bladeg)"/>
<path d="M2.46,0.47 L16.50,-5.28 L44.31,-20.87 L43.91,-21.69 L14.74,-8.87 L1.14,-2.23 Z" fill="url(#bladeg)"/>
<path d="M-1.8,2 L-0.6,2 L-1.6,51.5 L-2.8,51.5 Z M-3.9,2.5 L-3.1,2.5 L-4.3,50 L-5,50 Z" fill="#b4b4b8"/>
<path d="M2.2,-1.8 C4,-3 7,-2.5 9,-0.5 L11.2,2.2 C11.5,3 11,4 10,4.3 L8.8,5 V16 H3.8 V5 L2.2,3 Z" fill="#2e2f33"/>
<circle cx="0" cy="0" r="2.6" fill="#f2f2f3" stroke="#9a9a9e" stroke-width="0.6"/>
</g></defs>
<g id="wind">
<use href="#turbine" transform="translate(217.2,453.2)"/>
<use href="#turbine" transform="translate(266.3,436.3) scale(1.01)"/>
<use href="#turbine" transform="translate(302.3,476) scale(0.87)"/>
</g><!--/wind-->
<!--cc--><g id="cc">
<path d="M465.50,471.30 L480.80,476.40 L480.80,507.50 L465.50,502.40 Z" fill="#ef872c"/>
<path d="M480.80,476.40 L499.30,471.10 L499.30,502.20 L480.80,507.50 Z" fill="#d2572a"/>
<path d="M465.50,471.30 L484.00,466.00 L499.30,471.10 L480.80,476.40 Z" fill="#f29a3d"/>
<path d="M483.10,481.00 L498.40,486.10 L498.40,517.20 L483.10,512.10 Z" fill="#ef872c"/>
<path d="M498.40,486.10 L516.90,480.80 L516.90,511.90 L498.40,517.20 Z" fill="#d2572a"/>
<path d="M483.10,481.00 L501.60,475.70 L516.90,480.80 L498.40,486.10 Z" fill="#f29a3d"/>
<path d="M443.90,478.90 L459.20,484.00 L459.20,515.10 L443.90,510.00 Z" fill="#ef872c"/>
<path d="M459.20,484.00 L477.70,478.70 L477.70,509.80 L459.20,515.10 Z" fill="#d2572a"/>
<path d="M443.90,478.90 L462.40,473.60 L477.70,478.70 L459.20,484.00 Z" fill="#f29a3d"/>
<path d="M500.70,490.70 L516.00,495.80 L516.00,526.90 L500.70,521.80 Z" fill="#ef872c"/>
<path d="M516.00,495.80 L534.50,490.50 L534.50,521.60 L516.00,526.90 Z" fill="#d2572a"/>
<path d="M500.70,490.70 L519.20,485.40 L534.50,490.50 L516.00,495.80 Z" fill="#f29a3d"/>
<path d="M461.50,488.60 L476.80,493.70 L476.80,524.80 L461.50,519.70 Z" fill="#ef872c"/>
<path d="M476.80,493.70 L495.30,488.40 L495.30,519.50 L476.80,524.80 Z" fill="#d2572a"/>
<path d="M461.50,488.60 L480.00,483.30 L495.30,488.40 L476.80,493.70 Z" fill="#f29a3d"/>
<path d="M422.30,486.50 L437.60,491.60 L437.60,522.70 L422.30,517.60 Z" fill="#ef872c"/>
<path d="M437.60,491.60 L456.10,486.30 L456.10,517.40 L437.60,522.70 Z" fill="#d2572a"/>
<path d="M422.30,486.50 L440.80,481.20 L456.10,486.30 L437.60,491.60 Z" fill="#f29a3d"/>
<path d="M479.10,498.30 L494.40,503.40 L494.40,534.50 L479.10,529.40 Z" fill="#ef872c"/>
<path d="M494.40,503.40 L512.90,498.10 L512.90,529.20 L494.40,534.50 Z" fill="#d2572a"/>
<path d="M479.10,498.30 L497.60,493.00 L512.90,498.10 L494.40,503.40 Z" fill="#f29a3d"/>
<path d="M439.90,496.20 L455.20,501.30 L455.20,532.40 L439.90,527.30 Z" fill="#ef872c"/>
<path d="M455.20,501.30 L473.70,496.00 L473.70,527.10 L455.20,532.40 Z" fill="#d2572a"/>
<path d="M439.90,496.20 L458.40,490.90 L473.70,496.00 L455.20,501.30 Z" fill="#f29a3d"/>
<path d="M457.50,505.90 L472.80,511.00 L472.80,542.10 L457.50,537.00 Z" fill="#ef872c"/>
<path d="M472.80,511.00 L491.30,505.70 L491.30,536.80 L472.80,542.10 Z" fill="#d2572a"/>
<path d="M457.50,505.90 L476.00,500.60 L491.30,505.70 L472.80,511.00 Z" fill="#f29a3d"/>
</g><!--/cc-->
<!--ev--><defs>
<linearGradient id="carbody" x1="0" x2="0" y1="0" y2="1"><stop offset="0" stop-color="#f39a45"/><stop offset="0.5" stop-color="#ef8a2f"/><stop offset="1" stop-color="#e27a22"/></linearGradient>
<linearGradient id="carglass" x1="0" x2="0" y1="0" y2="1"><stop offset="0" stop-color="#6f8db0"/><stop offset="1" stop-color="#a9bfd3"/></linearGradient>
</defs>
<g id="ev">
  <path d="M610.1,509.2 V457.5 C610.1,455.8 615,455.2 623,455.2 C631,455.2 635.9,455.8 635.9,457.5 V509.2 Z" fill="#5cb548"/>
  <path d="M609.5,509 H636.5 L638.6,511.8 H607.6 Z" fill="#4fa83f"/>
  <rect x="615" y="472.4" width="6.8" height="6" rx="0.6" fill="#333537"/>
  <rect x="624.4" y="472.4" width="6.8" height="6" rx="0.6" fill="#333537"/>
  <circle cx="627.8" cy="475.4" r="1.8" fill="#222"/>
  <circle cx="624" cy="488.2" r="4.6" fill="none" stroke="#e9f7e4" stroke-width="0.8"/>
  <path d="M623.3,484.8 H625.6 L624.6,487.4 H626.4 L622.8,491.8 L623.7,488.7 H621.9 Z" fill="#fff"/>
  <path d="M618.5,475.2 C612,477 607.5,482 608.2,489 C609,496 616,501 625.5,501.2 C632,501.3 637,499 641,495.5 C647,490 652,484.5 661,483.5" fill="none" stroke="#2f8a35" stroke-width="1.4"/>
  <path d="M659.3,484.1 C666,480.5 672,479.3 677.9,479.1 L694.4,478.6 C702,479 708,482 713,485.7 L729.5,500.5 C733,502.5 736,504 738.3,506 C742,509.5 744.5,512.5 745.4,515.9 C746.5,519 746.8,521.5 746.5,523.6 C746.2,527 744.5,529.5 741.6,531.3 L721.8,534.6 L706.5,536.7 L692.2,537.8 L672.4,528 L656,523.6 C652.5,521.5 650.8,519 650.5,515.9 C649.3,512 649,508 649.4,504.9 C649.9,500.5 651,497 652.7,494 C654.5,490 656.5,486.5 659.3,484.1 Z" fill="url(#carbody)"/>
  <path d="M660.4,490.7 L674.6,487.4 L672.6,499.6 L659.8,497.6 Z" fill="url(#carglass)"/>
  <path d="M676.8,489.6 L686.7,491.2 L690,508.2 L676.3,503.8 Z" fill="url(#carglass)"/>
  <path d="M687.8,493.4 L713,486.3 L729.5,501.1 L695.5,508.2 Z" fill="url(#carglass)"/>
  <path d="M674.8,487.2 L676.5,488.8 L675.8,504 L673.6,527.5 L672.2,527.3 L672.8,499.5 Z" fill="#e07a25"/>
  <ellipse cx="714" cy="518.2" rx="8.6" ry="3.6" transform="rotate(8 714 518.2)" fill="#f3f1ee"/>
  <ellipse cx="741.6" cy="511.5" rx="2.6" ry="4.3" fill="#f3f1ee"/>
  <path d="M726.2,520.5 L742.7,518.8 L742.2,523.8 L726.6,525.4 Z" fill="#c07a4a"/>
  <path d="M728.5,526.6 L741,525.2 L740.5,528 L728.8,529.3 Z" fill="#5b4637"/>
  <ellipse cx="658.2" cy="516" rx="6.2" ry="8.2" fill="#1d1d1f"/>
  <ellipse cx="658.7" cy="516" rx="3.9" ry="5.2" fill="#f4f4f4"/>
  <ellipse cx="698.8" cy="530.8" rx="6.6" ry="8.4" fill="#1d1d1f"/>
  <ellipse cx="699.3" cy="530.8" rx="4.1" ry="5.4" fill="#f4f4f4"/>
  <g stroke="#555" stroke-width="0.9"><path d="M655.8,514 L661.6,518 M661.4,513.6 L656,518.6 M658.7,512 V520"/><path d="M696.6,528.6 L702,533 M701.9,528.4 L696.8,533.2 M699.3,526.6 V535"/></g>
  <path d="M660.5,495.3 h2 v1 h-2 Z M677.5,506.2 h2.2 v1.1 h-2.2 Z" fill="#4a2a10"/>
  <circle cx="723.4" cy="530.2" r="1.2" fill="#fff"/>
</g>
<!--/ev-->
<!--houses--><defs><g id="house">
<path d="M25.10,34.20 L57.60,22.20 L57.60,47.10 L25.10,59.90 Z" fill="#e6cd8c"/>
<path d="M2.00,54.30 L2.00,33.40 L9.70,15.50 L25.10,34.20 L25.10,59.90 Z" fill="#efd89b"/>
<path d="M9.70,15.00 L46.50,0.00 L61.50,18.80 L25.10,34.60 Z" fill="#274a76"/>
<path d="M9.70,14.30 L-0.40,33.20 L1.20,33.80 L10.30,17.50 Z" fill="#274a76"/>
<g transform="matrix(29.500,-11.100,9.800,14.600,15.700,14.500)">
<rect x="0" y="0" width="1" height="1" fill="#c9d3ef"/>
<rect x="0.020" y="0.035" width="0.210" height="0.263" fill="#3d5cbf"/>
<rect x="0.020" y="0.368" width="0.210" height="0.263" fill="#3d5cbf"/>
<rect x="0.020" y="0.702" width="0.210" height="0.263" fill="#3d5cbf"/>
<rect x="0.270" y="0.035" width="0.210" height="0.263" fill="#3d5cbf"/>
<rect x="0.270" y="0.368" width="0.210" height="0.263" fill="#3d5cbf"/>
<rect x="0.270" y="0.702" width="0.210" height="0.263" fill="#3d5cbf"/>
<rect x="0.520" y="0.035" width="0.210" height="0.263" fill="#3d5cbf"/>
<rect x="0.520" y="0.368" width="0.210" height="0.263" fill="#3d5cbf"/>
<rect x="0.520" y="0.702" width="0.210" height="0.263" fill="#3d5cbf"/>
<rect x="0.770" y="0.035" width="0.210" height="0.263" fill="#3d5cbf"/>
<rect x="0.770" y="0.368" width="0.210" height="0.263" fill="#3d5cbf"/>
<rect x="0.770" y="0.702" width="0.210" height="0.263" fill="#3d5cbf"/>
</g>
<path d="M11.60,26.50 L14.60,34.00 L8.60,34.00 Z" fill="#fff"/><path d="M11.60,28.50 L13.40,33.20 L9.80,33.20 Z" fill="#5e86b5"/>
<rect x="8.00" y="42.30" width="8.10" height="9.90" fill="#ffffff"/><rect x="8.90" y="43.20" width="6.30" height="8.10" fill="#5e86b5"/><path d="M12.05,42.30 V52.20 M8.00,47.25 H16.10" stroke="#fff" stroke-width="0.7"/>
<g transform="translate(25.100000000000023,34.19999999999999) skewY(-20) translate(-25.100000000000023,-34.19999999999999)">
<rect x="26.60" y="41.00" width="7.50" height="11.50" fill="#ffffff"/><rect x="27.50" y="41.90" width="5.70" height="9.70" fill="#5e86b5"/><path d="M30.35,41.00 V52.50 M26.60,46.75 H34.10" stroke="#fff" stroke-width="0.7"/>
<rect x="47.80" y="40.00" width="7.50" height="10.50" fill="#ffffff"/><rect x="48.70" y="40.90" width="5.70" height="8.70" fill="#5e86b5"/><path d="M51.55,40.00 V50.50 M47.80,45.25 H55.30" stroke="#fff" stroke-width="0.7"/>
<rect x="38.30" y="41.50" width="7" height="14.5" fill="#5e86b5"/><rect x="39.10" y="42.30" width="5.4" height="13.2" fill="#ffffff"/>
<path d="M40.50,45.00 h1 v1 h-1 Z M42.50,45.00 h1 v1 h-1 Z M40.50,48.00 h1 v1 h-1 Z M42.50,48.00 h1 v1 h-1 Z" fill="#5e86b5"/>
</g>
</g></defs>
<g id="housesg">
<use href="#house" transform="translate(856.60,422.30)"/>
<use href="#house" transform="translate(912.80,447.30)"/>
<use href="#house" transform="translate(794.00,466.00)"/>
<use href="#house" transform="translate(848.50,490.30)"/>
</g><!--/houses-->
<!--thermal--><g id="thermal">
  <path d="M6.5,637 C6,633 12,631.5 17,633 C21,630.5 28,631 31,634 C36,633 41,635 43,638.5 C48,639 52,643 51.5,648 C55,651 55,657 51,660 C49,664 43,665 40,662 C36,664 31,662 31,658 C28,654 25,649 21,645 C16,643 9,642 6.5,637 Z" fill="url(#cloud)"/>
  <path d="M26,636 C26,632 32,631 36,633 C40,631 47,632 50,635.5 C55,635 60,638 61.5,642 C67,642.5 72,646 73.5,651 C77,654 76,660 71.5,662 C69,665.5 63,665.5 60.5,662.5 C56,664.5 51,662.5 50.5,658 C47,654 44,649 40,645.5 C35,643 28,641 26,636 Z" fill="url(#cloud)"/>
  <rect x="42.8" y="664.8" width="9.2" height="59.1" fill="#a5a5a9"/>
  <rect x="63.2" y="664.8" width="9.3" height="59.1" fill="#a5a5a9"/>
  <g fill="#d1252d">
    <rect x="42.6" y="671.9" width="9.6" height="7.7" rx="1.6"/><rect x="42.6" y="683" width="9.6" height="7.5" rx="1.6"/><rect x="42.6" y="694" width="9.6" height="7.8" rx="1.6"/>
    <rect x="63" y="671.9" width="9.7" height="7.7" rx="1.6"/><rect x="63" y="683" width="9.7" height="7.5" rx="1.6"/><rect x="63" y="694" width="9.7" height="7.8" rx="1.6"/>
  </g>
  <path d="M30.3,745.4 L42.7,724.2 L71,724.2 L72.8,717.7 L88.7,717.7 L91.1,711.2 L109.9,711.2 L111.5,712 L112,718.9 L118.8,718.9 L120.2,719.8 L120.5,725.4 L133.5,725.4 L124.7,747.2 Z" fill="#2c5e8d"/>
  <path d="M124.7,747.2 L133.5,725.4 L133.5,748.4 L124.7,770.8 Z" fill="#9d9ea2"/>
  <rect x="30.3" y="745.4" width="94.4" height="25.4" fill="#3480b6"/>
  <path d="M63.9,770.8 V739.5 H82.8 V733.6 H101 V739.5 H114 V770.8 Z" fill="#3c89bf"/>
  <path d="M109.6,711.2 L101.2,738.8 L103.4,739.3 L111.8,712.6 Z" fill="#9d9ea2"/>
  <path d="M118.6,718.9 L109.8,745.8 L112,746.2 L120.6,720.3 Z" fill="#9d9ea2"/>
  <g fill="#eef4f9">
    <rect x="84" y="736.5" width="12.4" height="1.9"/>
    <rect x="65.7" y="742.7" width="12.4" height="1.9"/><rect x="84" y="742.7" width="12.4" height="1.9"/>
    <rect x="65.7" y="749.2" width="12.4" height="1.9"/><rect x="84" y="749.2" width="12.4" height="1.9"/><rect x="101.7" y="749.6" width="12.4" height="1.9"/>
    <rect x="65.7" y="755.7" width="12.4" height="1.9"/><rect x="84" y="755.7" width="12.4" height="1.9"/><rect x="101.7" y="756.1" width="12.4" height="1.9"/>
    <rect x="65.7" y="762.2" width="12.4" height="1.8" opacity="0.8"/><rect x="84" y="762.2" width="12.4" height="1.8" opacity="0.8"/><rect x="101.7" y="762.6" width="12.4" height="1.8" opacity="0.8"/>
  </g>
</g>
<!--/thermal-->
<!--hydro--><g id="hydro">
  <path d="M185.2,770 C185.5,735 212,706 251.7,706 C291.5,706 318,735 318.3,770 Z" fill="#6cb64b"/>
  <rect x="212.7" y="696.4" width="78.1" height="33.5" fill="#7e7c7c"/>
  <rect x="227.6" y="697.2" width="49" height="5.2" fill="#c3bcb6"/>
  <rect x="227.6" y="702.4" width="49" height="27.5" fill="#a59e98"/>
  <g fill="#4f9bd8">
    <rect x="229" y="702.4" width="9.7" height="27"/><rect x="241" y="702.4" width="9.7" height="27"/><rect x="252.9" y="702.4" width="9.7" height="27"/><rect x="264.8" y="702.4" width="10.3" height="27"/>
  </g>
  <g stroke="#9ccbf0" stroke-width="0.7" fill="none">
    <path d="M232,704 C233,710 231,716 232.5,724 M235.5,705 C236,712 235,719 236,726 M244,704 C245,711 243,718 244.5,726 M247.5,706 C248,712 247,720 248.5,727 M256,704 C257,711 255,718 256.5,725 M259.5,705 C260,713 259,720 260,727 M268,704 C269,711 267,718 268.5,726 M272,705 C272.5,712 271.5,719 272.5,727"/>
  </g>
  <path d="M193.4,753 C193.4,738 205,730 222,727.6 C238,725.8 265,725.8 282,727.6 C299,730 310.9,738 310.9,753 C310.9,763 306,770 298,770 H206 C198,770 193.4,763 193.4,753 Z" fill="#5a9fd8"/>
  <path d="M220.2,735 C224,731 228,729 232,730 C236,727.5 241,728 244,730 C248,727.5 254,727.5 257,730 C261,727.5 267,727.5 270,730 C274,728 280,729 284.1,735 Z" fill="#86bff0" opacity="0.85"/>
  <g stroke="#b7dcf6" stroke-width="0.9" fill="none" stroke-linecap="round">
    <path d="M210,738.5 C216,737 220,741 226,740.5 C232,740 236,735.5 242,736.5 C248,737.5 252,740.5 258,739 C264,737.5 268,735 274,736.5 C280,738 284,740 292,739"/>
    <path d="M201.5,752.5 C207,751 211,754 217,753 C223,752 226,748.5 232,749.5 C238,750.5 241,753.5 247,753"/>
    <path d="M255,750 C261,749 265,752 271,750.5 C277,749 280,746.5 286,747.5 C292,748.5 296,751.5 301.5,751"/>
  </g>
  <path d="M238,687.5 C234.5,687.5 234,683 237.5,682 C237,677.5 242,675.5 245,677.5 C246.5,672 253,669.5 257.5,671.5 C260.5,668 267,668.5 268.5,673 C272,672 276,675 274.5,679 C278,680 278.5,686.5 274,687.5 Z" fill="#d2e7f4"/>
  <g stroke="#c2d8ea" stroke-width="0.6"><path d="M244,689 L241.5,696 M247,689 L245,696 M260.5,689 L258.5,696 M264,689 L262,696"/></g>
</g>
<!--/hydro-->
<!--dist--><g id="dist">
  <g fill="#3a4c5f">
    <rect x="493.9" y="707" width="7" height="59.3"/><rect x="494.5" y="705.3" width="5.8" height="3"/>
    <rect x="475.4" y="711" width="42" height="3.2"/>
    <rect x="476" y="708.4" width="2" height="3"/><rect x="489.4" y="708.4" width="1.9" height="3"/><rect x="514.2" y="708.4" width="1.9" height="3"/>
    <path d="M486,714 L489,714 L496,720 L496,723 Z M508,714 L505,714 L499,720 L499,723 Z"/>
    <rect x="485.6" y="726.2" width="22.9" height="3.5"/>
    <rect x="530.1" y="697" width="7.6" height="69.3"/><rect x="530.8" y="695.1" width="6.2" height="3"/>
    <rect x="511.7" y="701.4" width="42.6" height="3.2"/>
    <rect x="512.3" y="698.3" width="2.3" height="3.2"/><rect x="525.7" y="698.3" width="2.1" height="3.2"/><rect x="550.5" y="698.3" width="2.2" height="3.2"/>
    <path d="M522,704.5 L525,704.5 L532,711 L532,714 Z M545,704.5 L542,704.5 L536,711 L536,714 Z"/>
    <rect x="521.8" y="716.7" width="22.9" height="3.8"/>
  </g>
  <path d="M455.1,710.3 L463.3,702.1 L465.3,704 L471.6,699.5 L472.9,701.4 L479.9,695.1" fill="none" stroke="#e8743c" stroke-width="1.2"/>
  <g fill="#7a3d28">
    <rect x="448.3" y="723" width="4.8" height="11" rx="1.5"/><rect x="456.5" y="723" width="4.8" height="11" rx="1.5"/><rect x="464.8" y="723" width="4.8" height="11" rx="1.5"/>
  </g>
  <g fill="#5a2a1a"><rect x="448" y="726" width="5.4" height="1"/><rect x="448" y="729" width="5.4" height="1"/><rect x="456.2" y="726" width="5.4" height="1"/><rect x="456.2" y="729" width="5.4" height="1"/><rect x="464.5" y="726" width="5.4" height="1"/><rect x="464.5" y="729" width="5.4" height="1"/></g>
  <rect x="443.5" y="740.5" width="32.5" height="25.8" fill="#cbcbce"/>
  <path d="M442,740.9 L443.5,734.5 H476 L477.3,740.9 Z" fill="#d9d9db"/>
  <g fill="#b3b3b7"><rect x="454" y="740.9" width="1" height="25.4"/><rect x="464.5" y="740.9" width="1" height="25.4"/></g>
  <g stroke="#e6e6e8" stroke-width="0.7" stroke-dasharray="1.6 1">
    <path d="M445.5,744 H452.5 M456.5,744 H463 M467,744 H474 M445.5,747 H452.5 M456.5,747 H463 M467,747 H474 M445.5,750 H452.5 M456.5,750 H463 M467,750 H474 M445.5,753 H452.5 M456.5,753 H463 M467,753 H474 M445.5,756 H452.5 M456.5,756 H463 M467,756 H474 M445.5,759 H452.5 M456.5,759 H463 M467,759 H474 M445.5,762 H452.5 M456.5,762 H463 M467,762 H474"/>
  </g>
</g>
<!--/dist-->
<!--ind--><g id="ind">
<path d="M800,599 H807 L808.9,716 H797.2 Z" fill="#8b5433"/>
<path d="M824.5,599 H831.5 L832.3,716 H821.6 Z" fill="#8b5433"/>
<path d="M849,599 H856.6 L857.6,716 H846.5 Z" fill="#8b5433"/>
<path d="M881,662 C881,660 886,659.3 892.2,659.3 C898.4,659.3 903.4,660 903.4,662 V716 H881 Z" fill="#8a5232"/>
<circle cx="891.7" cy="656" r="1.8" fill="#8a5232"/><rect x="891" y="656" width="1.4" height="4" fill="#8a5232"/>
<rect x="770.9" y="692.6" width="3.5" height="35" fill="#8a5232"/>
<path d="M779.7,731.6 L782.6,720 L782.6,766 L779.7,769.6 Z" fill="#8d5a36"/>
<path d="M734.9,731.6 C736,725 739,721 743.6,719.6 C749,717.5 754,717 759.2,717 C768,717 776,718 782.6,720 L779.7,731.6 C770,729.5 758,728.8 750,729.2 C743,729.6 738,730.5 734.9,731.6 Z" fill="#b87f56"/>
<path d="M734.9,731.6 C738,730.5 743,729.6 750,729.2 C758,728.8 770,729.5 779.7,731.6 V769.6 H734.9 Z" fill="#d9a57c"/>
<rect x="771.2" y="692.6" width="2.9" height="33" fill="#8a5232"/>
<path d="M785.50,769.60 L785.50,740.40 L813.20,726.90 L813.50,737.40 L836.50,727.90 L836.80,737.40 L859.90,728.90 L860.20,738.40 L883.30,728.90 L883.60,739.40 L907.70,728.90 L907.30,773.50 Z" fill="#daa67d"/>
<path d="M818.20,704.30 L820.70,706.80 L814.20,737.40 L812.60,737.40 L812.60,726.90 Z" fill="#8a5430"/>
<path d="M841.50,705.30 L844.00,707.80 L837.80,737.40 L835.90,737.40 L835.90,727.90 Z" fill="#8a5430"/>
<path d="M864.90,706.30 L867.40,708.80 L861.20,738.40 L859.30,738.40 L859.30,728.90 Z" fill="#8a5430"/>
<path d="M888.30,706.30 L890.80,708.80 L884.50,739.40 L882.70,739.40 L882.70,728.90 Z" fill="#8a5430"/>
<path d="M785.50,740.40 L791.50,718.90 L818.70,704.30 L813.20,726.90 Z" fill="#b67f55"/>
<path d="M813.60,737.40 L819.60,715.90 L842.00,705.30 L836.50,727.90 Z" fill="#b67f55"/>
<path d="M837.20,737.40 L843.20,715.90 L865.40,706.30 L859.90,728.90 Z" fill="#b67f55"/>
<path d="M860.60,738.40 L866.60,716.90 L888.80,706.30 L883.30,728.90 Z" fill="#b67f55"/>
<path d="M883.90,739.40 L889.90,717.90 L913.20,706.30 L907.70,728.90 Z" fill="#b67f55"/>
<path d="M913.20,706.30 L913.2,766 L907.3,773.5 L907.70,728.90 Z" fill="#8d5934"/>
<rect x="790.4" y="752.6" width="31.2" height="2.8" rx="0.8" fill="#fbf8f5"/>
<rect x="790.4" y="757.9" width="31.2" height="2.8" rx="0.8" fill="#fbf8f5"/>
<rect x="790.4" y="763.7" width="31.2" height="2.8" rx="1" fill="#93bde0"/>
<rect x="830.3" y="752.6" width="30.7" height="2.8" rx="0.8" fill="#fbf8f5"/>
<rect x="830.3" y="757.9" width="30.7" height="2.8" rx="0.8" fill="#fbf8f5"/>
<rect x="830.3" y="763.7" width="30.7" height="2.8" rx="1" fill="#93bde0"/>
<rect x="869.9" y="752.6" width="30.8" height="2.8" rx="0.8" fill="#fbf8f5"/>
<rect x="869.9" y="757.9" width="30.8" height="2.8" rx="0.8" fill="#fbf8f5"/>
<rect x="869.9" y="763.7" width="30.8" height="2.8" rx="1" fill="#93bde0"/>
</g><!--/ind-->
<!-- LABELS -->
<g fill="#30537a" stroke="#30537a" stroke-width="0.18">
<text x="46.2" y="356.6" font-size="17.0" textLength="104.9" lengthAdjust="spacingAndGlyphs">Biomass Energy</text>
<text x="220.8" y="360.3" font-size="17.3" textLength="75.9" lengthAdjust="spacingAndGlyphs">Solar Power</text>
<text x="413.8" y="359.9" font-size="16.4" textLength="134.0" lengthAdjust="spacingAndGlyphs">Transmission Stations</text>
<text x="649.9" y="339.2" font-size="15.0" textLength="93.2" lengthAdjust="spacingAndGlyphs">Energy Storage</text>
<text x="674.5" y="357.1" font-size="15.2" textLength="43.4" lengthAdjust="spacingAndGlyphs">System</text>
<text x="860.9" y="357.0" font-size="15.3" textLength="63.8" lengthAdjust="spacingAndGlyphs">Smart City</text>
<text x="10.7" y="585.7" font-size="17.2" textLength="134.3" lengthAdjust="spacingAndGlyphs">Nuclear Power Plant</text>
<text x="201.7" y="585.7" font-size="16.3" textLength="114.3" lengthAdjust="spacingAndGlyphs">Wind Power Plant</text>
<text x="430.6" y="586.0" font-size="17.8" textLength="99.1" lengthAdjust="spacingAndGlyphs">Control Center</text>
<text x="608.9" y="582.4" font-size="16.0" textLength="158.6" lengthAdjust="spacingAndGlyphs">Electric Vehicle Charging</text>
<text x="838.4" y="585.9" font-size="16.0" textLength="85.0" lengthAdjust="spacingAndGlyphs">Smart Houses</text>
<text x="12.9" y="810.7" font-size="17.2" textLength="137.8" lengthAdjust="spacingAndGlyphs">Thermal Power Plant</text>
<text x="198.6" y="806.6" font-size="15.8" textLength="107.8" lengthAdjust="spacingAndGlyphs">Hydroelectricity</text>
<text x="409.0" y="810.7" font-size="16.6" textLength="136.6" lengthAdjust="spacingAndGlyphs">Distribution Stations</text>
<text x="774.3" y="810.8" font-size="17.2" textLength="103.2" lengthAdjust="spacingAndGlyphs">Industrial Plant</text>
</g>
</svg>
</body></html>
